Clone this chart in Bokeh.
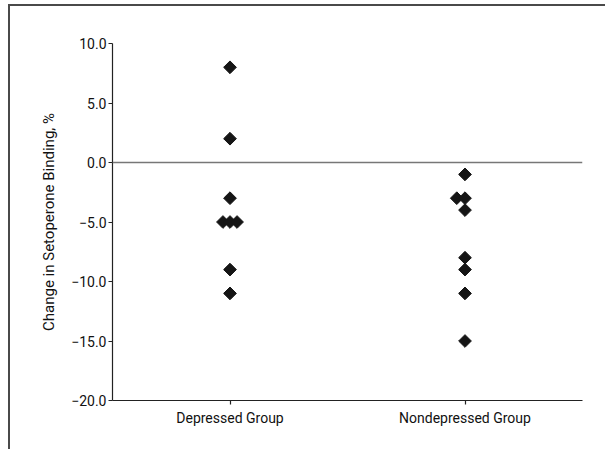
from bokeh.plotting import figure
from bokeh.models import Span, FixedTicker, Range1d
from bokeh.embed import file_html
from bokeh.resources import INLINE
import numpy as np

# ---- data ----
categories = ["Depressed Group", "Nondepressed Group"]
cat_pos = [1, 3]
dep_values = [8, 2, -3, -5, -5, -5, -9, -11]
dep_jitter = [0, 0, 0, -0.06, 0, 0.06, 0, 0]
nondep_values = [-1, -3, -3, -4, -8, -9, -11, -15]
nondep_jitter = [0, -0.07, 0, 0, 0, 0, 0, 0]
y_ticks = [10, 5, 0, -5, -10, -15, -20]
y_tick_labels = ["10.0", "5.0", "0.0", "\u22125.0", "\u221210.0", "\u221215.0", "\u221220.0"]

FONT = "Roboto"
AX = "#222222"

p = figure(width=597, height=445, output_backend="svg", toolbar_location=None,
           x_range=Range1d(0, 4), y_range=Range1d(-20, 10),
           min_border_left=102, min_border_right=25, min_border_top=37, min_border_bottom=51)
p.styles = {"border-top": "2px solid #4a4a4a", "border-left": "2px solid #4a4a4a",
            "margin-top": "4px", "margin-left": "8px"}
p.outline_line_color = None
p.xgrid.visible = False
p.ygrid.visible = False
p.background_fill_color = "white"
p.border_fill_color = "white"

p.add_layout(Span(location=0, dimension="width", line_color="#777777", line_width=1.5))

xs = [cat_pos[0] + j for j in dep_jitter] + [cat_pos[1] + j for j in nondep_jitter]
ys = dep_values + nondep_values
p.scatter(xs, ys, marker="square", angle=np.pi / 4, size=9,
          fill_color="#151515", line_color="#151515")

xa = p.xaxis[0]
xa.ticker = FixedTicker(ticks=cat_pos)
xa.major_label_overrides = {cat_pos[i]: categories[i] for i in range(2)}
ya = p.yaxis[0]
ya.ticker = FixedTicker(ticks=y_ticks)
ya.major_label_overrides = {y_ticks[i]: y_tick_labels[i] for i in range(len(y_ticks))}
ya.axis_label = "Change in Setoperone Binding, %"

for ax in (xa, ya):
    ax.axis_line_color = AX
    ax.axis_line_width = 1.2
    ax.major_tick_line_color = AX
    ax.major_tick_line_width = 1.2
    ax.major_tick_out = 4
    ax.major_tick_in = 0
    ax.minor_tick_line_color = None
    ax.major_label_text_font = FONT
    ax.major_label_text_font_size = "14px"
    ax.major_label_text_color = "#111111"
    ax.axis_label_text_font = FONT
    ax.axis_label_text_font_size = "15px"
    ax.axis_label_text_font_style = "normal"
    ax.axis_label_text_color = "#111111"

ya.major_label_standoff = 2
xa.major_label_standoff = 5
ya.axis_label_standoff = 10

open("out.html", "w").write(file_html(p, INLINE))
